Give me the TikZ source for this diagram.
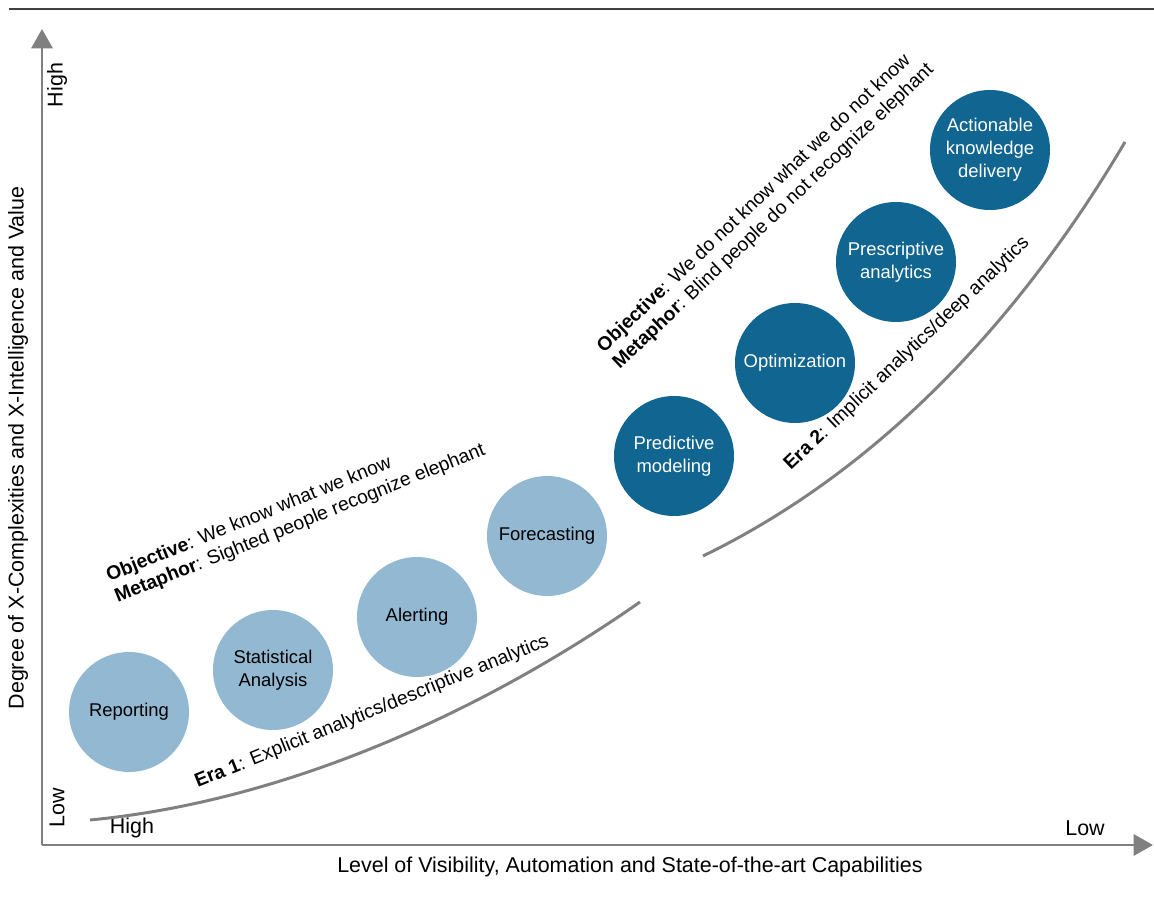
\documentclass[tikz,border=0pt]{standalone}
\usepackage{fontspec}
\setmainfont{Liberation Sans}
\usetikzlibrary{positioning}
\usetikzlibrary{arrows.meta}

\definecolor{axisgray}{RGB}{128,128,128}
\definecolor{paleblue}{RGB}{147,185,210}
\definecolor{deepblue}{RGB}{16,101,145}

\begin{document}
\begin{tikzpicture}[x=0.02cm, y=0.02cm,
		font=\fontsize{10.5}{13}\selectfont,
		axisline/.style={axisgray, line width=1.7pt, -{Triangle[length=11pt, width=12pt]}},
		eraline/.style={axisgray, line width=1.7pt},
		axistext/.style={font=\fontsize{12.2}{14}\selectfont},
		slanttext/.style={font=\fontsize{11}{13}\selectfont},
		oldstage/.style={circle, fill=paleblue, minimum size=120*0.02cm, inner sep=0pt, align=center, text=black},
		newstage/.style={circle, fill=deepblue, minimum size=120*0.02cm, inner sep=0pt, align=center, text=white}
	]
				\useasboundingbox (0,0) rectangle (1154,910);
				\draw[black!75, line width=1.1pt] (9,901) -- (1154,901);
				% axes
				\coordinate (origin) at (42,65);
				\coordinate (ytip) at (42,881);
				\coordinate (xtip) at (1153,65);
				\draw[axisline] (origin) -- (ytip);
				\draw[axisline] (origin) -- (xtip);
				\node[axistext, rotate=90] (yhigh) at (57,825) {High};
				\node[axistext, rotate=90] (ylow) at (57,102) {Low};
				\node[axistext] (xhigh) at (132,82) {High};
				\node[axistext] (xlow) at (1085,82) {Low};
				\node[axistext, rotate=90] (ylabel) at (18,462) {Degree of X-Complexities and X-Intelligence and Value};
				\node[axistext] (xlabel) at (630,43) {Level of Visibility, Automation and State-of-the-art Capabilities};
				% stages
				\node[oldstage] (report) at (129,198) {Reporting};
				\node[oldstage] (stats) at (273,240) {Statistical\\Analysis};
				\node[oldstage] (alert) at (417,293) {Alerting};
				\node[oldstage] (forecast) at (547,374) {Forecasting};
				\node[newstage] (predict) at (674,454) {Predictive\\modeling};
				\node[newstage] (optim) at (795,547) {Optimization};
				\node[newstage] (prescr) at (896,648) {Prescriptive\\analytics};
				\node[newstage] (action) at (990,760) {Actionable\\knowledge\\delivery};
				% eras
				\coordinate (era1a) at (90,90);
				\coordinate (era1b) at (640,308);
				\coordinate (era2a) at (703,354);
				\coordinate (era2b) at (1125,768);
				\draw[eraline] (era1a) .. controls (300,110) and (500,210) .. (era1b);
				\draw[eraline] (era2a) .. controls (880,440) and (1020,590) .. (era2b);
				\node[slanttext, rotate=22] (era1text) at (372,198) {\textbf{Era 1}: Explicit analytics/descriptive analytics};
				\node[slanttext, rotate=43.5] (era2text) at (907,556) {\textbf{Era 2}: Implicit analytics/deep analytics};
				\node[slanttext, rotate=22, anchor=west, align=left] (era1goal) at (106,320)
					{\textbf{Objective}: We know what we know\\\textbf{Metaphor}: Sighted people recognize elephant};
				\node[slanttext, rotate=43.5, anchor=west, align=left] (era2goal) at (604,548)
					{\textbf{Objective}: We do not know what we do not know\\\textbf{Metaphor}: Blind people do not recognize elephant};
			\end{tikzpicture}
\end{document}
